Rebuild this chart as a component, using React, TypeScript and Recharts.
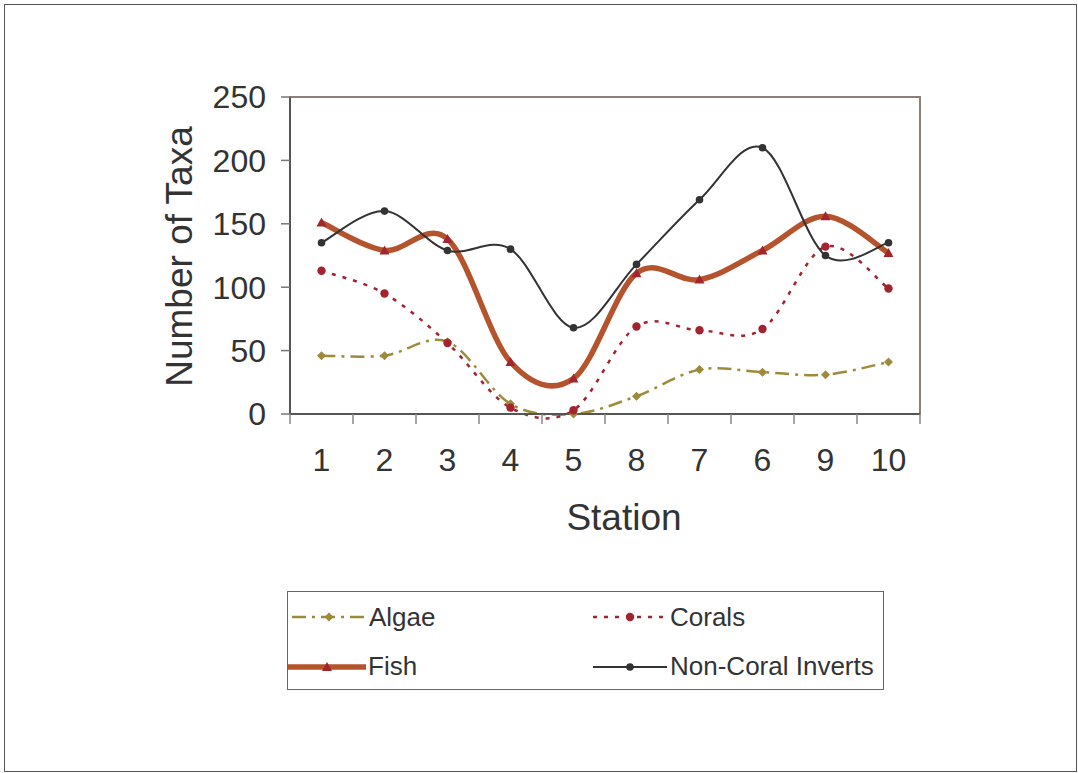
import React from "react";
import {
  LineChart,
  Line,
  XAxis,
  YAxis,
  ReferenceArea,
} from "recharts";

const STATIONS = ["1", "2", "3", "4", "5", "8", "7", "6", "9", "10"];
const ALGAE = [46, 46, 57, 8, 0, 14, 35, 33, 31, 41];
const CORALS = [113, 95, 56, 5, 3, 69, 66, 67, 132, 99];
const FISH = [151, 129, 138, 41, 28, 111, 106, 129, 156, 127];
const INVERTS = [135, 160, 129, 130, 68, 118, 169, 210, 125, 135];
const Y_TICKS = [0, 50, 100, 150, 200, 250];

const FONT = '"Liberation Sans", Arial, sans-serif';
const TEXT = "#333";
const X_TICK_SIZE = 10;
const X_TICK_MARGIN = 24;

type Shape = "diamond" | "circle" | "triangle" | "dot";

const SERIES = [
  { key: "algae", name: "Algae", color: "#9d8b3b", width: 2.5, dash: "14 6 3 6", shape: "diamond" as Shape, markColor: "#9d8b3b" },
  { key: "corals", name: "Corals", color: "#a3232f", width: 2.5, dash: "4 7", shape: "circle" as Shape, markColor: "#a3232f" },
  { key: "fish", name: "Fish", color: "#b5532c", width: 5.5, dash: undefined, shape: "triangle" as Shape, markColor: "#a3262e" },
  { key: "inverts", name: "Non-Coral Inverts", color: "#333", width: 2, dash: undefined, shape: "dot" as Shape, markColor: "#333" },
];

const data = STATIONS.map((station, i) => ({
  station,
  algae: ALGAE[i],
  corals: CORALS[i],
  fish: FISH[i],
  inverts: INVERTS[i],
}));

// Excel-like smoothing: Catmull-Rom through every point
function excelSmooth(context: any) {
  let pts: number[][] = [];
  return {
    areaStart() {},
    areaEnd() {},
    lineStart() {
      pts = [];
    },
    point(x: number, y: number) {
      pts.push([+x, +y]);
    },
    lineEnd() {
      const n = pts.length;
      if (!n) return;
      context.moveTo(pts[0][0], pts[0][1]);
      for (let i = 0; i < n - 1; i++) {
        const p0 = pts[i - 1] || pts[i];
        const p1 = pts[i];
        const p2 = pts[i + 1];
        const p3 = pts[i + 2] || p2;
        context.bezierCurveTo(
          p1[0] + (p2[0] - p0[0]) / 6,
          p1[1] + (p2[1] - p0[1]) / 6,
          p2[0] - (p3[0] - p1[0]) / 6,
          p2[1] - (p3[1] - p1[1]) / 6,
          p2[0],
          p2[1]
        );
      }
    },
  };
}

function Marker({ shape, cx, cy, color }: { shape: Shape; cx: number; cy: number; color: string }) {
  if (shape === "diamond")
    return <polygon points={`${cx},${cy - 4.5} ${cx + 4.5},${cy} ${cx},${cy + 4.5} ${cx - 4.5},${cy}`} fill={color} />;
  if (shape === "triangle")
    return <polygon points={`${cx},${cy - 5} ${cx + 5},${cy + 4} ${cx - 5},${cy + 4}`} fill={color} />;
  return <circle cx={cx} cy={cy} r={shape === "circle" ? 4.2 : 3.8} fill={color} />;
}

// station label plus Excel-style tick marks on the category boundaries
function StationTick(props: any) {
  const { x, y, payload, index, visibleTicksCount } = props;
  const half = payload?.offset || 31.5;
  const axisY = y - X_TICK_SIZE - X_TICK_MARGIN;
  const tick = (tx: number) => (
    <line x1={tx} y1={axisY} x2={tx} y2={axisY + X_TICK_SIZE} stroke="#888" strokeWidth={1.5} />
  );
  return (
    <g>
      {tick(x - half)}
      {index === visibleTicksCount - 1 && tick(x + half)}
      <text x={x} y={y} dy="0.71em" textAnchor="middle" fill={TEXT} fontSize={32} fontFamily={FONT}>
        {payload.value}
      </text>
    </g>
  );
}

function LegendBox() {
  return (
    <div
      style={{
        position: "absolute",
        left: 287,
        top: 591,
        width: 597,
        height: 99,
        border: "1.5px solid #666",
        boxSizing: "border-box",
        display: "grid",
        gridTemplateColumns: "301px 1fr",
        gridTemplateRows: "1fr 1fr",
        paddingTop: 1,
        fontFamily: FONT,
        fontSize: 26,
        color: TEXT,
      }}
    >
      {SERIES.map((s) => {
        const thick = s.key === "fish";
        return (
          <div key={s.key} style={{ display: "flex", alignItems: "center", marginTop: thick || s.key === "inverts" ? 3 : 0 }}>
            <svg width={thick ? 78 : 74} height={20} style={{ marginLeft: thick ? 0 : 4, marginRight: thick ? 2 : 3 }}>
              <line x1={0} y1={10} x2={thick ? 78 : 74} y2={10} stroke={s.color} strokeWidth={s.width} strokeDasharray={s.dash} />
              <Marker shape={s.shape} cx={thick ? 39 : 37} cy={10} color={s.markColor} />
            </svg>
            <span>{s.name}</span>
          </div>
        );
      })}
    </div>
  );
}

export default function App() {
  return (
    <div style={{ position: "fixed", left: 0, top: 0, width: 1078, height: 773, background: "#fff" }}>
      <div
        style={{
          position: "absolute",
          left: 4,
          top: 4,
          width: 1073,
          height: 768,
          border: "1.5px solid #555",
          boxSizing: "border-box",
        }}
      />
      <div style={{ position: "absolute", left: 0, top: 0 }}>
        <LineChart width={1078} height={773} data={data} margin={{ top: 97, right: 158, bottom: 299, left: 210 }}>
          <ReferenceArea y1={0} y2={250} fill="none" stroke="#8c7f7a" strokeWidth={2} ifOverflow="visible" />
          <XAxis
            dataKey="station"
            scale="band"
            interval={0}
            tickLine={false}
            axisLine={{ stroke: "#555", strokeWidth: 2 }}
            tickSize={X_TICK_SIZE}
            tickMargin={X_TICK_MARGIN}
            height={60}
            tick={<StationTick />}
            label={{
              content: ({ viewBox }: any) => (
                <text x={viewBox.x + viewBox.width / 2 + 19} y={530} textAnchor="middle" fill={TEXT} fontSize={37} fontFamily={FONT}>
                  Station
                </text>
              ),
            }}
          />
          <YAxis
            domain={[0, 250]}
            ticks={Y_TICKS}
            width={80}
            axisLine={{ stroke: "#555", strokeWidth: 2 }}
            tickLine={{ stroke: "#777", strokeWidth: 1.5 }}
            tickSize={9}
            tickMargin={15}
            tick={{ fill: TEXT, fontSize: 32, fontFamily: FONT }}
            label={{
              content: ({ viewBox }: any) => {
                const cy = viewBox.y + viewBox.height / 2 + 1;
                return (
                  <text x={192} y={cy} transform={`rotate(-90, 192, ${cy})`} textAnchor="middle" fill={TEXT} fontSize={37} fontFamily={FONT}>
                    Number of Taxa
                  </text>
                );
              },
            }}
          />
          {SERIES.map((s) => (
            <Line
              key={s.key}
              dataKey={s.key}
              name={s.name}
              type={excelSmooth as any}
              stroke={s.color}
              strokeWidth={s.width}
              strokeDasharray={s.dash}
              isAnimationActive={false}
              dot={(p: any) => <Marker key={`${s.key}-${p.index}`} shape={s.shape} cx={p.cx} cy={p.cy} color={s.markColor} />}
              activeDot={false}
            />
          ))}
        </LineChart>
      </div>
      <LegendBox />
    </div>
  );
}
